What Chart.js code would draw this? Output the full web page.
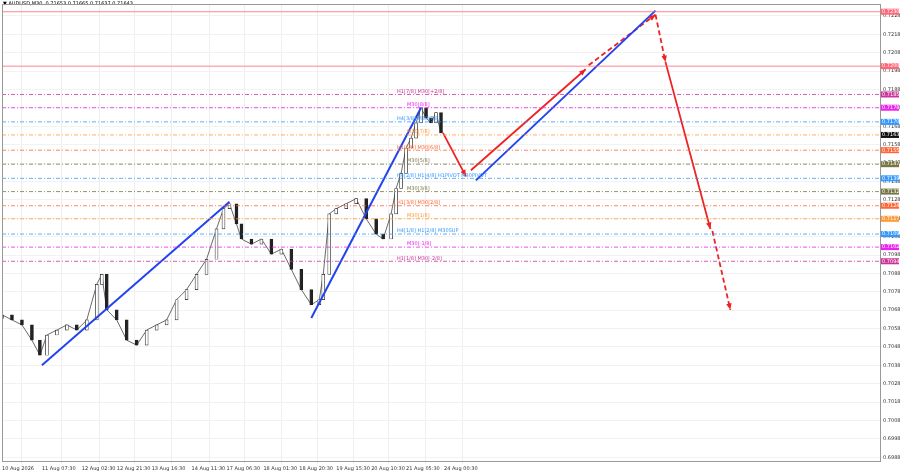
<!DOCTYPE html><html><head><meta charset="utf-8">
<script src="https://cdn.jsdelivr.net/npm/chart.js@4/dist/chart.umd.min.js"></script>
<style>html,body{margin:0;background:#fff}#w{width:900px;height:474px}</style></head><body><div id="w"><canvas id="c"></canvas></div>
<script>
const barX=[0,10,20,30,38,45,55,65,75,85,95,100,105,115,125,135,145,155,165,175,185,195,205,215,222,228,235,240,250,260,270,280,290,300,310,318,322,328,335,345,355,365,375,382,390,395,400,405,410,415,420,425,430,435,440];
const closes=[0.70655,0.70627,0.70600,0.70517,0.70435,0.70545,0.70572,0.70600,0.70572,0.70627,0.70820,0.70875,0.70682,0.70627,0.70517,0.70490,0.70572,0.70600,0.70627,0.70737,0.70792,0.70875,0.70957,0.71122,0.71232,0.71259,0.71149,0.71067,0.71039,0.71067,0.70985,0.71012,0.70902,0.70792,0.70710,0.70737,0.70875,0.71204,0.71232,0.71259,0.71287,0.71177,0.71094,0.71067,0.71204,0.71342,0.71424,0.71562,0.71616,0.71699,0.71781,0.71726,0.71699,0.71754,0.71644];
const timeTickX=[0,40,80,115,150,190,225,262,298,335,370,405,443];
const timeLabels=["10 Aug 2026","11 Aug 07:30","12 Aug 02:30","12 Aug 21:30","13 Aug 16:30","14 Aug 11:30","17 Aug 06:30","18 Aug 01:30","18 Aug 20:30","19 Aug 15:30","20 Aug 10:30","21 Aug 05:30","24 Aug 00:30"];
const levelPrices=[0.72303,0.72007,0.71853,0.71781,0.71704,0.71633,0.71550,0.71474,0.71397,0.71325,0.71248,0.71177,0.71094,0.71023,0.70946];
const levelColors=["#ff6677","#ff6677","#cc3399","#ee22ee","#3399ff","#ff9933","#ff6633","#777744","#3399ff","#777744","#ff6633","#ff9933","#3399ff","#ee22ee","#cc3399"];
const levelTexts=["","","H1[7/8] M30[+2/8]","M30[8/8]","H4[3/8] M30[7/8]","M30[7/8]","H1[5/8] M30[6/8]","M30[5/8]","H4[2/8] H1[4/8] H1PIVOT M30PIVOT","M30[3/8]","H1[3/8] M30[2/8]","M30[1/8]","H4[1/8] H1[2/8] M30SUP","M30[-1/8]","H1[1/8] M30[-2/8]"];
const blueLines=[[[40,0.70380],[228,0.71270]],[[310,0.70638],[420,0.71781]],[[475,0.71386],[655,0.72309]]];
const redSolid=[[[442,0.71644],[465,0.71408]],[[470,0.71441],[585,0.71990]],[[665,0.72029],[710,0.71122]]];
const redDashed=[[[588,0.72012],[655,0.72287]],[[655,0.72287],[665,0.72029]],[[712,0.71111],[730,0.70682]]];
const yTicks=[0.6988,0.6998,0.7008,0.7018,0.7028,0.7038,0.7048,0.7058,0.7068,0.7078,0.7088,0.7098,0.7108,0.7118,0.7128,0.7138,0.7148,0.7158,0.7168,0.7178,0.7188,0.7198,0.7208,0.7218,0.7228];

const line=(pts,color,w,dash)=>({type:'line',data:pts.map(p=>({x:p[0],y:p[1]})),borderColor:color,borderWidth:w,borderDash:dash||[],pointRadius:0,fill:false,order:0});
const ds=[];
// candles
const bodies=barX.map((x,i)=>({x,y:[i?closes[i-1]:closes[0]-0.0002,closes[i]]}));
ds.push({type:'bar',data:bodies,barThickness:3,backgroundColor:bodies.map(b=>b.y[1]>=b.y[0]?'#ffffff':'#222'),borderColor:'#222',borderWidth:0.7,borderSkipped:false,order:3});
ds.push({type:'line',data:barX.map((x,i)=>({x,y:closes[i]})),borderColor:'#444',borderWidth:0.8,pointRadius:0,order:4});
levelPrices.forEach((p,i)=>ds.push(line([[0,p],[880,p]],levelColors[i],0.8,i<2?[]:[4,2,1,2])));
blueLines.forEach(l=>ds.push(line(l,'#2244ee',2)));
redSolid.forEach(l=>ds.push(line(l,'#ee2222',1.8)));
redDashed.forEach(l=>ds.push(line(l,'#ee2222',1.8,[5,3])));
// arrowheads
const arrows={id:'arr',afterDatasetsDraw(ch){const c=ch.ctx,xs=ch.scales.x,ys=ch.scales.y;
 const segs=[...redSolid,...redDashed].filter((s,i)=>true);
 [redSolid[0],redSolid[1],redDashed[0],redDashed[2],redSolid[2],redDashed[1]].forEach(s=>{const x1=xs.getPixelForValue(s[0][0]),y1=ys.getPixelForValue(s[0][1]),x2=xs.getPixelForValue(s[1][0]),y2=ys.getPixelForValue(s[1][1]);const a=Math.atan2(y2-y1,x2-x1);c.save();c.fillStyle='#ee2222';c.beginPath();c.moveTo(x2,y2);c.lineTo(x2-7*Math.cos(a-0.4),y2-7*Math.sin(a-0.4));c.lineTo(x2-7*Math.cos(a+0.4),y2-7*Math.sin(a+0.4));c.fill();c.restore();});
 c.save();c.font='5px "DejaVu Sans"';c.textBaseline='middle';
 levelPrices.forEach((p,i)=>{const y=ys.getPixelForValue(p);if(levelTexts[i]){c.fillStyle=levelColors[i];c.fillText(levelTexts[i],382+(levelTexts[i].length<10?25:15),y-3);}
  c.fillStyle=levelColors[i]==='#ff9933'&&i==5?'#111':levelColors[i];c.fillRect(881,y-3,18,6);c.fillStyle='#fff';c.fillText(p.toFixed(5),882,y);});
 c.fillStyle='#000';c.font='5px "DejaVu Sans"';c.fillText('▼ AUDUSD,M30  0.71653 0.71665 0.71637 0.71643',3,4);
 c.strokeStyle='#999';c.lineWidth=1;c.strokeRect(xs.left+0.5,ys.top+0.5,xs.right-xs.left,ys.bottom-ys.top);c.restore();}};
new Chart(document.getElementById('c'),{data:{datasets:ds},plugins:[arrows],options:{animation:false,responsive:true,maintainAspectRatio:false,
 layout:{padding:{top:1,left:0,right:0,bottom:0}},
 plugins:{legend:{display:false},tooltip:{enabled:false}},
 scales:{x:{type:'linear',min:0,max:880,offset:false,afterBuildTicks:a=>{a.ticks=timeTickX.map(v=>({value:v}));},
   ticks:{font:{size:5,family:'DejaVu Sans'},color:'#333',maxRotation:0,autoSkip:false,padding:2,align:'start',callback:(v)=>timeLabels[timeTickX.indexOf(v)]},
   grid:{color:'#eee',drawTicks:true,tickLength:3},border:{color:'#999'}},
  y:{position:'right',min:0.69860,max:0.72345,afterBuildTicks:a=>{a.ticks=yTicks.map(v=>({value:v}));},afterFit:a=>{a.width=20;},
   ticks:{font:{size:5,family:'DejaVu Sans'},color:'#333',autoSkip:false,padding:1,callback:v=>v.toFixed(5)},
   grid:{color:'#f2f2f2',tickLength:2},border:{color:'#999'}}}}});
</script></body></html>
